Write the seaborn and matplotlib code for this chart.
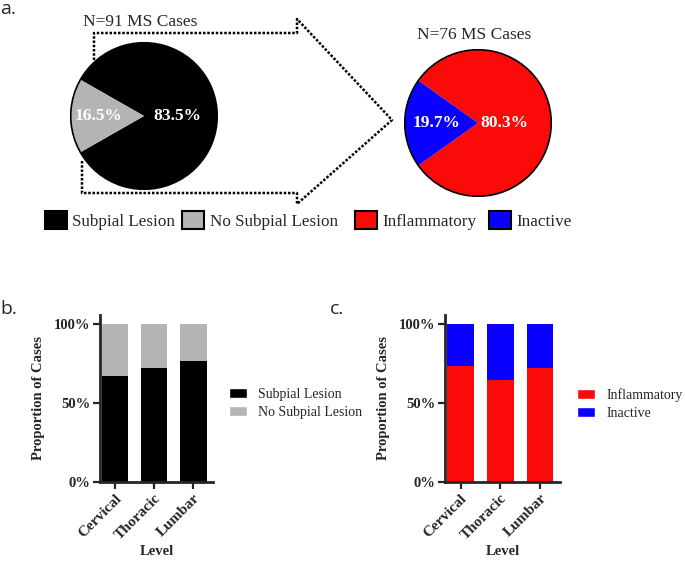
import matplotlib
matplotlib.use('Agg')
import matplotlib.pyplot as plt
import seaborn as sns
import pandas as pd
from matplotlib.patches import Patch, Circle

sns.set_style('ticks')
plt.rcParams['font.family'] = ['Liberation Serif', 'DejaVu Serif']

# ---- data ----
pie1_labels = ['Subpial Lesion', 'No Subpial Lesion']
pie1_values = [83.5, 16.5]
pie1_colors = ['#000000', '#b4b4b4']
pie1_title = 'N=91 MS Cases'

pie2_labels = ['Inflammatory', 'Inactive']
pie2_values = [80.3, 19.7]
pie2_colors = ['#fb0a0a', '#0a00ff']
pie2_title = 'N=76 MS Cases'

levels = ['Cervical', 'Thoracic', 'Lumbar']
subpial = [0.672, 0.725, 0.765]
inflammatory = [0.736, 0.645, 0.723]

W, H = 685, 561
fig = plt.figure(figsize=(W / 100, H / 100), dpi=100)


def box(left, top, w, h):
    # pixel box -> figure fraction
    return [left / W, 1 - (top + h) / H, w / W, h / H]


def pt(x, y):
    return x / W, 1 - y / H


# dotted arrow behind the first pie
ax_bg = fig.add_axes([0, 0, 1, 1])
ax_bg.set_axis_off()
ax_bg.set_xlim(0, W)
ax_bg.set_ylim(H, 0)
arrow_x = [94, 94, 297, 297, 392, 297, 297, 82, 82]
arrow_y = [60, 33, 33, 19, 120, 204, 193, 193, 160]
ax_bg.plot(arrow_x, arrow_y, color='black', lw=1.8, ls=(0, (1, 0.7)))


def draw_pie(cx, cy, r, values, colors, title, title_y, dist_big, dist_small):
    ax = fig.add_axes(box(cx - r, cy - r, 2 * r, 2 * r))
    start = 180 + values[1] / 100 * 360 / 2
    wedges, texts, autotexts = ax.pie(
        values, colors=colors, startangle=start, autopct='%1.1f%%',
        pctdistance=0.5, wedgeprops=dict(linewidth=0),
        textprops=dict(color='white', fontweight='bold', fontsize=12.5))
    autotexts[0].set_position((dist_big, 0))
    autotexts[1].set_position((-dist_small, 0))
    ax.add_patch(Circle((0, 0), 1, fill=False, ec='black', lw=1.2))
    ax.set_xlim(-1.01, 1.01)
    ax.set_ylim(-1.01, 1.01)
    ax.set_aspect('equal')
    ax.text(-0.05, title_y, title, ha='center', va='baseline', fontsize=12.5,
            clip_on=False)
    return ax


draw_pie(144, 116, 74, pie1_values, pie1_colors, pie1_title, 1.23, 0.45, 0.62)
draw_pie(478, 123, 74, pie2_values, pie2_colors, pie2_title, 1.15, 0.36, 0.57)

# legends under the pies
for labels, colors, x0, cs in [(pie1_labels, pie1_colors, 45, 0.4),
                               (pie2_labels, pie2_colors, 355, 0.75)]:
    handles = [Patch(facecolor=c, edgecolor='black', linewidth=1.5) for c in colors]
    fig.legend(handles, labels, loc='upper left', bbox_to_anchor=pt(x0, 211),
               ncol=2, frameon=False, fontsize=12.3, borderpad=0, borderaxespad=0,
               handlelength=1.3, handleheight=1.2, handletextpad=0.3,
               columnspacing=cs)

# ---- stacked bar panels ----
df = pd.DataFrame({'level': levels, 'total': [1.0] * 3,
                   'subpial': subpial, 'inflammatory': inflammatory})


def draw_bars(left, right, col, top_color, bottom_color, labels, leg_x):
    ax = fig.add_axes(box(left, 315, right - left, 167))
    sns.barplot(data=df, x='level', y='total', color=top_color, saturation=1,
                width=0.67, linewidth=0, ax=ax)
    sns.barplot(data=df, x='level', y=col, color=bottom_color, saturation=1,
                width=0.67, linewidth=0, ax=ax)
    ax.set_ylim(0, 1.06)
    ax.set_xlim(-0.39, 2.5)
    ax.set_yticks([0, 0.5, 1.0])
    ax.set_yticklabels(['0%', '50%', '100%'], fontweight='bold', fontsize=10.5)
    ax.set_xticks(range(len(levels)))
    ax.set_xticklabels(levels, rotation=45, ha='right', rotation_mode='anchor',
                       fontweight='bold', fontsize=11)
    ax.set_ylabel('Proportion of Cases', fontweight='bold', fontsize=10.5, labelpad=6)
    ax.set_xlabel('Level', fontweight='bold', fontsize=10.5, labelpad=2)
    sns.despine(ax=ax)
    for s in ['left', 'bottom']:
        ax.spines[s].set_linewidth(2)
    ax.tick_params(width=1.6, length=5, pad=2)
    handles = [Patch(facecolor=bottom_color), Patch(facecolor=top_color)]
    fig.legend(handles, labels, loc='upper left', bbox_to_anchor=pt(leg_x, 388),
               frameon=False, fontsize=10, borderpad=0, borderaxespad=0,
               handlelength=1.3, handleheight=0.75, handletextpad=0.8,
               labelspacing=0.35)
    return ax


draw_bars(100, 213, 'subpial', '#b4b4b4', '#000000', pie1_labels, 229)
draw_bars(445, 560, 'inflammatory', '#0a00ff', '#fb0a0a', pie2_labels, 577)

# panel letters
for letter, x, y in [('a.', 0, 0), ('b.', 0, 300), ('c.', 330, 300)]:
    fig.text(*pt(x, y), letter, ha='left', va='top', fontsize=14,
             family=['Open Sans', 'DejaVu Sans'])

fig.savefig('out.png', dpi=100)
